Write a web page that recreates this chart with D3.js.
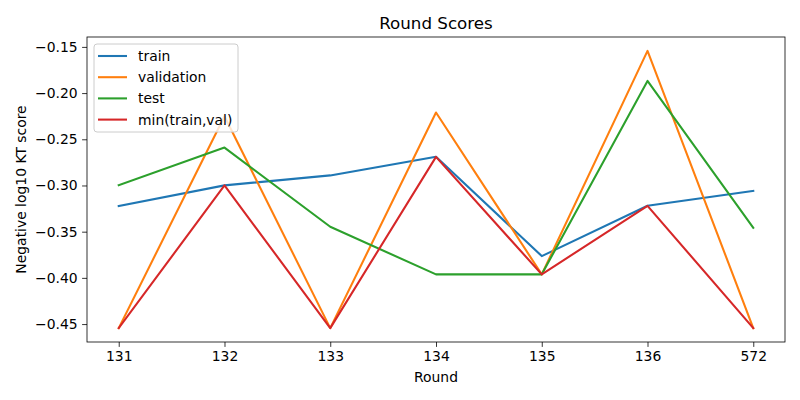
<!DOCTYPE html>
<html><head><meta charset="utf-8">
<script src="https://cdn.jsdelivr.net/npm/d3@7"></script>
<style>body{margin:0;background:#fff;} svg{display:block;font-family:"DejaVu Sans",sans-serif;}</style>
</head><body>
<script>
const rounds = ["131","132","133","134","135","136","572"];
const train = [-0.3223, -0.2999, -0.2891, -0.2690, -0.3764, -0.3220, -0.3058];
const validation = [-0.4544, -0.2250, -0.4544, -0.2210, -0.3962, -0.1543, -0.4544];
const test = [-0.2996, -0.2590, -0.3447, -0.3962, -0.3962, -0.1868, -0.3458];
const minTrainVal = [-0.4544, -0.2999, -0.4544, -0.2690, -0.3962, -0.3220, -0.4544];
const yTicks = [-0.45, -0.40, -0.35, -0.30, -0.25, -0.20, -0.15];

const series = [
  {name:"train", values:train, color:"#1f77b4"},
  {name:"validation", values:validation, color:"#ff7f0e"},
  {name:"test", values:test, color:"#2ca02c"},
  {name:"min(train,val)", values:minTrainVal, color:"#d62728"}
];

const W=800,H=400, L=87, R=785, T=37, B=342;
const svg=d3.select("body").append("svg").attr("width",W).attr("height",H);

const n=rounds.length;
const x=d3.scaleLinear().domain([-0.3,(n-1)+0.3]).range([L,R]);
const all=series.flatMap(s=>s.values);
const lo=d3.min(all), hi=d3.max(all), pad=(hi-lo)*0.05;
const y=d3.scaleLinear().domain([lo-pad,hi+pad]).range([B,T]);

const line=d3.line().x((d,i)=>x(i)).y(d=>y(d));
series.forEach(s=>{
  svg.append("path").datum(s.values).attr("d",line)
    .attr("fill","none").attr("stroke",s.color).attr("stroke-width",2.08)
    .attr("stroke-linejoin","round").attr("stroke-linecap","square");
});

// axes
const xAxis=d3.axisBottom(x).tickValues(d3.range(n)).tickFormat(i=>rounds[i]).tickSize(4.9).tickPadding(4.5);
const gx=svg.append("g").attr("transform",`translate(0,${B})`).call(xAxis);
const yAxis=d3.axisLeft(y).tickValues(yTicks).tickFormat(d=>d3.format(".2f")(d).replace("-","\u2212")).tickSize(4.9).tickPadding(4.5);
const gy=svg.append("g").attr("transform",`translate(${L},0)`).call(yAxis);
[gx,gy].forEach(g=>{
  g.select(".domain").remove();
  g.selectAll("line").attr("stroke","#000").attr("stroke-width",0.8);
  g.selectAll("text").attr("font-size",13.9).attr("fill","#000").attr("font-family","DejaVu Sans");
});
svg.append("rect").attr("x",L).attr("y",T).attr("width",R-L).attr("height",B-T)
  .attr("fill","none").attr("stroke","#000").attr("stroke-width",0.8);

svg.append("text").attr("x",(L+R)/2).attr("y",29).attr("text-anchor","middle")
  .attr("font-size",16.7).text("Round Scores");
svg.append("text").attr("x",(L+R)/2).attr("y",382).attr("text-anchor","middle")
  .attr("font-size",13.9).text("Round");
svg.append("text").attr("transform",`translate(26,${(T+B)/2}) rotate(-90)`).attr("text-anchor","middle")
  .attr("font-size",13.9).text("Negative log10 KT score");

// legend
const lg=svg.append("g");
lg.append("rect").attr("x",94).attr("y",44).attr("width",144).attr("height",88).attr("rx",3)
  .attr("fill","#fff").attr("fill-opacity",0.8).attr("stroke","#ccc").attr("stroke-width",1);
series.forEach((s,i)=>{
  const yy=56+i*21.2;
  lg.append("line").attr("x1",98).attr("x2",127).attr("y1",yy).attr("y2",yy)
    .attr("stroke",s.color).attr("stroke-width",2.08);
  lg.append("text").attr("x",138).attr("y",yy+5).attr("font-size",13.9).text(s.name);
});
</script>
</body></html>
